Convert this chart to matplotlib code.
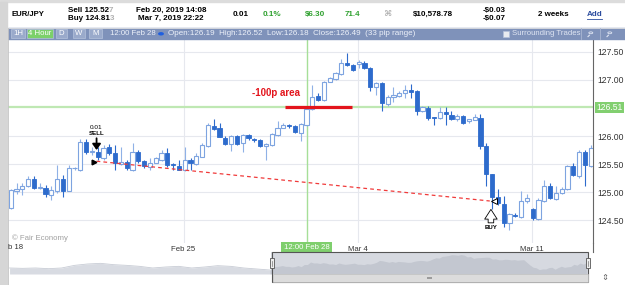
import matplotlib
matplotlib.use('Agg')
import matplotlib.pyplot as plt
from matplotlib.patches import Rectangle, Circle
from matplotlib.lines import Line2D
import numpy as np

plt.rcParams['font.family'] = ['Liberation Sans', 'DejaVu Sans']

W, H = 625, 285

# EUR/JPY 4시간봉 (Feb 18 00:00 부터)
opens = [124.71, 125.02, 125.05, 125.11, 125.23, 125.07, 125.08, 124.95, 125.02, 125.23,
         125.02, 125.42, 125.40, 125.90, 125.71, 125.72, 125.60, 125.80, 125.69, 125.50,
         125.54, 125.40, 125.72, 125.55, 125.45, 125.51, 125.58, 125.69, 125.49, 125.46,
         125.39, 125.57, 125.50, 125.63, 125.82, 126.18, 126.14, 125.97, 125.85, 126.00,
         125.87, 126.02, 125.94, 125.93, 125.83, 125.84, 126.02, 126.15, 126.20, 126.18,
         126.05, 126.19, 126.49, 126.71, 126.64, 126.97, 127.01, 127.10, 127.30, 127.26,
         127.28, 127.31, 127.21, 126.87, 126.94, 126.58, 126.70, 126.72, 126.76, 126.82,
         126.80, 126.44, 126.50, 126.33, 126.32, 126.42, 126.38, 126.30, 126.36, 126.26,
         126.29, 126.33, 125.83, 125.32, 124.91, 124.78, 124.44, 124.59, 124.56, 124.84,
         124.69, 124.52, 124.84, 125.11, 124.88, 124.98, 125.05, 125.46, 125.29, 125.71,
         125.47]
highs = [125.05, 125.17, 125.16, 125.29, 125.29, 125.16, 125.13, 125.10, 125.48, 125.30,
         125.48, 125.45, 125.94, 125.94, 125.81, 125.81, 125.84, 125.85, 125.84, 125.81,
         125.57, 125.87, 125.75, 125.58, 125.60, 125.63, 125.75, 125.78, 125.51, 125.57,
         125.81, 125.60, 125.69, 125.87, 126.23, 126.30, 126.23, 126.00, 126.02, 126.02,
         126.04, 126.04, 125.97, 125.95, 125.87, 126.06, 126.27, 126.23, 126.22, 126.20,
         126.23, 126.52, 126.91, 126.76, 126.99, 127.06, 127.15, 127.38, 127.49, 127.28,
         127.36, 127.34, 127.23, 126.97, 126.96, 126.73, 126.87, 126.80, 126.91, 126.92,
         126.82, 126.53, 126.53, 126.34, 126.52, 126.52, 126.44, 126.40, 126.38, 126.31,
         126.40, 126.39, 125.87, 125.33, 125.05, 124.93, 124.62, 124.62, 125.02, 124.96,
         124.72, 124.89, 125.21, 125.16, 125.10, 125.09, 125.48, 125.51, 125.75, 125.75,
         125.84]
lows = [124.69, 124.96, 124.95, 125.09, 125.05, 125.05, 124.91, 124.86, 124.98, 124.91,
        125.01, 125.40, 125.38, 125.68, 125.66, 125.58, 125.57, 125.66, 125.39, 125.49,
        125.39, 125.38, 125.52, 125.42, 125.40, 125.51, 125.56, 125.45, 125.39, 125.39,
        125.38, 125.39, 125.48, 125.62, 125.81, 126.11, 125.98, 125.84, 125.74, 125.84,
        125.72, 125.93, 125.90, 125.81, 125.57, 125.82, 126.00, 126.14, 126.15, 126.06,
        125.91, 126.18, 126.47, 126.62, 126.62, 126.96, 127.00, 127.09, 127.25, 127.16,
        127.22, 127.19, 126.81, 126.73, 126.45, 126.54, 126.61, 126.70, 126.67, 126.67,
        126.38, 126.42, 126.29, 126.20, 126.30, 126.20, 126.29, 126.27, 126.22, 126.24,
        126.28, 125.76, 125.10, 124.70, 124.77, 124.38, 124.32, 124.55, 124.53, 124.80,
        124.50, 124.50, 124.83, 124.87, 124.86, 124.97, 125.03, 125.29, 125.25, 125.11,
        125.44]
closes = [125.04, 125.05, 125.11, 125.23, 125.08, 125.08, 124.96, 125.03, 125.23, 125.02,
          125.43, 125.43, 125.90, 125.72, 125.73, 125.62, 125.78, 125.69, 125.51, 125.54,
          125.42, 125.72, 125.56, 125.46, 125.52, 125.60, 125.69, 125.48, 125.48, 125.40,
          125.57, 125.51, 125.64, 125.84, 126.20, 126.13, 125.99, 125.86, 126.00, 125.86,
          126.02, 125.96, 125.92, 125.83, 125.85, 126.03, 126.14, 126.20, 126.17, 126.07,
          126.21, 126.49, 126.70, 126.64, 126.97, 127.03, 127.12, 127.30, 127.26, 127.18,
          127.32, 127.21, 126.87, 126.94, 126.59, 126.70, 126.73, 126.77, 126.82, 126.79,
          126.45, 126.51, 126.32, 126.32, 126.42, 126.39, 126.30, 126.36, 126.24, 126.30,
          126.34, 125.83, 125.32, 124.91, 124.80, 124.45, 124.60, 124.58, 124.84, 124.90,
          124.53, 124.86, 125.10, 124.89, 124.99, 125.05, 125.46, 125.30, 125.71, 125.48,
          125.78]

# 네비게이터 (선택 구간 이전)
nav_history = [124.77, 124.70, 124.77, 124.64, 124.77, 125.27, 125.53, 125.65, 125.40, 125.27,
               125.08, 124.77, 124.96, 125.08, 124.77, 124.96, 125.21, 125.08, 124.77, 124.58,
               124.39]

week_ticks = [29.8, 59.8, 89.8]
week_labels = ['Feb 25', 'Mar 4', 'Mar 11']
price_ticks = [124.5, 125.0, 125.5, 126.0, 127.0, 127.5]
current_price = 126.51
selected_bar = 51
sell_bar, sell_price = 14.8, 125.55
buy_bar, buy_price = 82.6, 124.84
area_price = 126.52
area_bars = [47.3, 58.8]


def box(x, y, w, h):  # 픽셀 -> figure 비율
    return [x / W, 1 - (y + h) / H, w / W, h / H]


def fx(x):
    return x / W


def fy(y):
    return 1 - y / H


def rect(x, y, w, h, **kw):
    fig.add_artist(Rectangle((fx(x), fy(y + h)), w / W, h / H, transform=fig.transFigure, **kw))


def line(x0, y0, x1, y1, **kw):
    fig.add_artist(Line2D([fx(x0), fx(x1)], [fy(y0), fy(y1)], transform=fig.transFigure, **kw))


def txt(x, y, s, **kw):
    kw.setdefault('va', 'center')
    kw.setdefault('fontsize', 5.8)
    return fig.text(fx(x), fy(y), s, **kw)


fig = plt.figure(figsize=(6.25, 2.85), dpi=100)
fig.patch.set_facecolor('white')

# 헤더
rect(0, 0, W, 2, color='#dcdcdc')
line(8, 27.5, W, 27.5, color='#e2e2e2', lw=0.6)
txt(12, 14.5, 'EUR/JPY', fontweight='bold', fontsize=5.6)
txt(136, 10.5, 'Feb 20, 2019 14:08', fontweight='bold')
txt(138, 18.5, 'Mar 7, 2019 22:22', fontweight='bold')
txt(233, 14.5, '0.01', fontweight='bold')
txt(263, 14.5, '0.1%', fontweight='bold', color='#2ea02e')
txt(305, 14.5, r'\$6.30', fontweight='bold', color='#2ea02e')
txt(345, 14.5, '71.4', fontweight='bold', color='#2ea02e')
txt(384, 14.5, '⌘', color='#a8a8a8', fontsize=6)
txt(413, 14.5, r'\$10,578.78', fontweight='bold')
txt(483, 10.5, r'-\$0.03', fontweight='bold')
txt(483, 18.5, r'-\$0.07', fontweight='bold')
txt(538, 14.5, '2 weeks', fontweight='bold')
txt(587, 14.5, 'Add', fontweight='bold', color='#2b4c9e')
line(587, 19, 602, 19, color='#2b4c9e', lw=0.6)

sell_t = txt(68, 10.5, 'Sell 125.52', fontweight='bold')
buy_t = txt(68, 18.5, 'Buy 124.81', fontweight='bold')
fig.canvas.draw()
for t, d in [(sell_t, '7'), (buy_t, '3')]:
    bb = t.get_window_extent()
    fig.text(bb.x1 / fig.bbox.width, t.get_position()[1], d, va='center',
             fontsize=5.8, fontweight='bold', color='#b0b0b0')

# 툴바
rect(8, 28, W - 8, 11, color='#7f92ba')
for bx, bw, lab, col in [(11, 14, '1H', '#9aaacb'), (27, 26, '4 Hour', '#7cd06a'),
                         (56, 11, 'D', '#9aaacb'), (73, 12, 'W', '#9aaacb'), (89, 13, 'M', '#9aaacb')]:
    rect(bx, 29, bw, 9, facecolor=col, edgecolor='#b5c2dc', lw=0.5)
    txt(bx + bw / 2, 33.8, lab, ha='center', color='white', fontsize=5.6)
txt(110, 33.8, '12:00 Feb 28', color='#eef2fa', fontsize=5.6)
fig.add_artist(Circle((fx(161), fy(33.8)), 2.2 / W, transform=fig.transFigure, color='#1f5fe0'))
txt(168, 33.8, 'Open:126.19  High:126.52  Low:126.18  Close:126.49  (33 pip range)',
    color='#eef2fa', fontsize=5.75)
rect(503, 31, 6, 6, facecolor='#e9ebf0', edgecolor='#b5c2dc', lw=0.5)
txt(512, 33.8, 'Surrounding Trades', color='#dfe5f2', fontsize=5.6)
line(581, 28, 581, 39, color='#a9b6d2', lw=0.6)
line(600, 28, 600, 39, color='#a9b6d2', lw=0.6)
for cx in [590, 609]:
    fig.add_artist(Circle((fx(cx + 0.8), fy(32.8)), 2.0 / W, transform=fig.transFigure,
                          fill=False, ec='#dfe5f2', lw=0.6))
    line(cx - 0.6, 35.2, cx - 2, 36.6, color='#dfe5f2', lw=0.8)

# 왼쪽 스크롤 영역
rect(0, 2, 7, H - 2, color='#d6d6d6')
line(7.5, 28, 7.5, H, color='#c4c4c4', lw=0.6)

# 메인 차트
ax = fig.add_axes(box(8, 40, 585, 203))
o = np.array(opens)
hi = np.array(highs)
lo = np.array(lows)
c = np.array(closes)
x = np.arange(len(c))
up = c >= o
dn = ~up

ax.vlines(x[up], lo[up], hi[up], color='#8fb1e6', lw=0.8, zorder=2)
ax.vlines(x[dn], lo[dn], hi[dn], color='#2d6bcc', lw=0.8, zorder=2)
ax.bar(x[up], np.maximum(c[up] - o[up], 0.012), bottom=o[up], width=0.7,
       facecolor='white', edgecolor='#7ea4e0', lw=0.8, zorder=3)
ax.bar(x[dn], np.maximum(o[dn] - c[dn], 0.012), bottom=c[dn], width=0.7,
       facecolor='#2d6bcc', edgecolor='#2d6bcc', lw=0.6, zorder=3)

ax.axhline(current_price, color='#bfe8b3', lw=1.6, zorder=1)
ax.axvline(selected_bar, color='#a6df98', lw=1.0, zorder=1)

# -100p 영역
ax.plot(area_bars, [area_price, area_price], color='#e3141c', lw=2.3, solid_capstyle='butt', zorder=5)
ax.text(np.mean(area_bars) - 7.3, 126.77, '-100p area', color='#e3141c', fontsize=7,
        fontweight='bold', ha='center', va='center')

# 매도 -> 매수
ax.plot([sell_bar, buy_bar], [sell_price, buy_price], color='#f03a3a', lw=0.9,
        ls=(0, (3, 2.5)), zorder=4)
ax.plot(sell_bar - 0.45, sell_price - 0.01, marker='>', color='black', ms=3.4, zorder=6)
ax.annotate('', xy=(sell_bar, 125.75), xytext=(sell_bar, 125.96),
            arrowprops=dict(arrowstyle='-|>,head_width=0.25,head_length=0.35', color='black',
                            lw=1.3, shrinkA=0, shrinkB=0), zorder=6)
ax.text(sell_bar, 126.16, '0.01', fontsize=4.6, ha='center', va='center')
ax.text(sell_bar, 126.05, 'SELL', fontsize=4.4, fontweight='bold', ha='center', va='center')

ax.plot(buy_bar + 0.8, buy_price, marker='<', mfc='white', mec='black', mew=0.7, ms=3.8, zorder=6)
ax.annotate('', xy=(buy_bar + 0.2, 124.69), xytext=(buy_bar + 0.2, 124.45),
            arrowprops=dict(arrowstyle='simple,head_width=0.9,head_length=0.7,tail_width=0.4',
                            fc='white', ec='black', lw=0.6, shrinkA=0, shrinkB=0), zorder=6)
ax.text(buy_bar + 0.2, 124.37, 'BUY', fontsize=4.4, fontweight='bold', ha='center', va='center')

ax.text(0.006, 0.025, '© Fair Economy', transform=ax.transAxes, fontsize=5.6, color='#a0a0a0',
        va='center')

ax.set_xlim(-0.47, 100.4)
ax.set_ylim(124.09, 127.714)
ax.set_xticks(week_ticks, week_labels)
ax.yaxis.tick_right()
ax.set_yticks(price_ticks, [f'{p:.2f}' for p in price_ticks])
ax.tick_params(axis='x', length=0, pad=2, labelsize=5.6, colors='#333333')
ax.tick_params(axis='y', length=0, pad=3, labelsize=6.2, colors='#333333')
ax.grid(True, color='#e6e8ee', lw=0.8, zorder=0)
ax.set_axisbelow(True)
for s in ['left', 'top', 'bottom']:
    ax.spines[s].set_visible(False)
ax.spines['right'].set_color('#666666')
ax.spines['right'].set_linewidth(0.8)

ax.text(1.006, current_price, f'{current_price:.2f}', transform=ax.get_yaxis_transform(),
        fontsize=6.2, color='white', ha='left', va='center',
        bbox=dict(boxstyle='square,pad=0.15', fc='#82cf70', ec='none'))
ax.text(selected_bar, -0.022, '12:00 Feb 28', transform=ax.get_xaxis_transform(), fontsize=5.6,
        color='white', ha='center', va='center',
        bbox=dict(boxstyle='square,pad=0.3', fc='#7fcf6d', ec='none'))
txt(8, 247.5, 'b 18', fontsize=5.6, color='#333333')
line(593, 243, 593, 252, color='#666666', lw=0.8)

# 네비게이터
nav = fig.add_axes(box(8, 252, 580, 22))
hx = np.linspace(-84, -1, len(nav_history))
nav.fill_between(hx, 123.63, nav_history, color='#d8dbe2', lw=0)
nav.plot(hx, nav_history, color='#c8ccd5', lw=0.6)
nav.axvspan(-0.5, 100.5, color='#d6d9e0', lw=0)
nav.fill_between(np.r_[-1, x], 123.63, np.r_[nav_history[-1], c], color='#c3c7d0', lw=0)
nav.set_xlim(-84.5, 100.5)
nav.set_ylim(123.63, 127.8)
nav.axis('off')

rect(272, 252, 316, 30, fill=False, edgecolor='#555555', lw=0.8)
rect(272.5, 274, 315, 7.5, facecolor='#dcdcdc', edgecolor='#bdbdbd', lw=0.5)
rect(427, 276.5, 5, 2.5, facecolor='#9c9c9c', edgecolor='none')
for hx0 in [270, 586]:
    rect(hx0, 258, 4, 10, facecolor='#eeeeee', edgecolor='#555555', lw=0.6)
    line(hx0 + 2, 260.5, hx0 + 2, 265.5, color='#777777', lw=0.5)
txt(605, 278, '⇕', fontsize=6, color='#666666', ha='center')

fig.savefig('out.png', dpi=100)
